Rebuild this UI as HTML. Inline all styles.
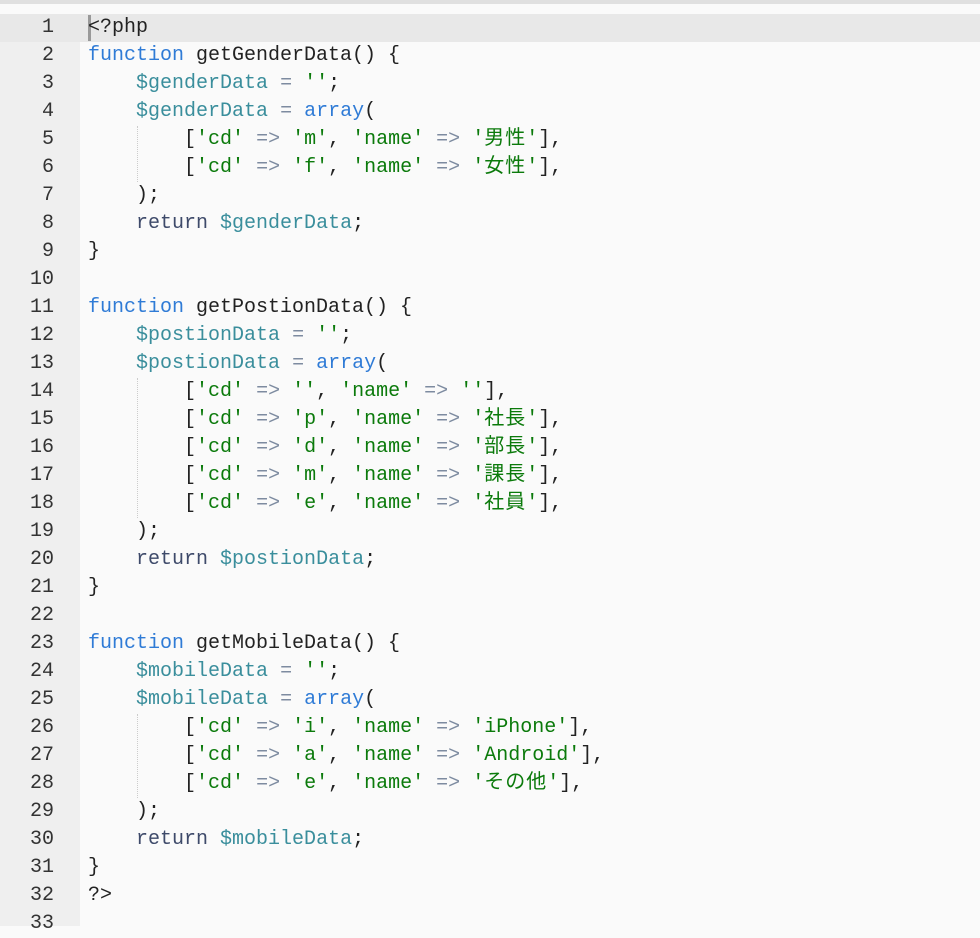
<!DOCTYPE html>
<html><head><meta charset="utf-8"><style>
html,body{margin:0;padding:0;}
body{width:980px;height:926px;overflow:hidden;background:#fafafa;position:relative;font-family:"Liberation Mono","Noto Sans CJK JP",monospace;font-size:20px;}
#top{position:absolute;left:0;top:0;width:980px;height:4px;background:#e0e0e0;}
#topw{position:absolute;left:0;top:4px;width:980px;height:10px;background:#fafafa;}
#gut{position:absolute;left:0;top:14px;width:80px;height:912px;background:#efefef;}
#hl{position:absolute;left:0;top:14px;width:980px;height:28px;background:#e8e8e8;}
#cur{position:absolute;left:88px;top:15px;width:3px;height:26px;background:#999;}
.ln{position:absolute;left:0;width:54px;text-align:right;color:#333;height:28px;line-height:28px;}
.cl{position:absolute;left:88px;height:28px;line-height:28px;white-space:pre;color:#222;overflow:hidden;}
.k{color:#2f7bd6}.v{color:#3a8e9c}.s{color:#0b7a0b}.o{color:#7d8ba0}.r{color:#3e4a6a}
.cj{font-family:"Noto Sans CJK JP",sans-serif;display:inline-block;line-height:20px;height:20px;vertical-align:baseline;letter-spacing:1px;}
.g{position:absolute;left:137px;width:0;border-left:1px dotted #ccc;}
</style></head><body>
<div id="top"></div><div id="topw"></div>
<div id="gut"></div><div id="hl"></div>
<div class="g" style="top:126px;height:56px"></div>
<div class="g" style="top:378px;height:140px"></div>
<div class="g" style="top:714px;height:84px"></div>
<div id="cur"></div>
<div id="c"></div>
<script>
const L=[
'<?php',
'<span class="k">function</span> getGenderData() {',
'    <span class="v">$genderData</span> <span class="o">=</span> <span class="s">\'\'</span>;',
'    <span class="v">$genderData</span> <span class="o">=</span> <span class="k">array</span>(',
'        [<span class="s">\'cd\'</span> <span class="o">=></span> <span class="s">\'m\'</span>, <span class="s">\'name\'</span> <span class="o">=></span> <span class="s">\'<span class="cj">男性</span>\'</span>],',
'        [<span class="s">\'cd\'</span> <span class="o">=></span> <span class="s">\'f\'</span>, <span class="s">\'name\'</span> <span class="o">=></span> <span class="s">\'<span class="cj">女性</span>\'</span>],',
'    );',
'    <span class="r">return</span> <span class="v">$genderData</span>;',
'}',
'',
'<span class="k">function</span> getPostionData() {',
'    <span class="v">$postionData</span> <span class="o">=</span> <span class="s">\'\'</span>;',
'    <span class="v">$postionData</span> <span class="o">=</span> <span class="k">array</span>(',
'        [<span class="s">\'cd\'</span> <span class="o">=></span> <span class="s">\'\'</span>, <span class="s">\'name\'</span> <span class="o">=></span> <span class="s">\'\'</span>],',
'        [<span class="s">\'cd\'</span> <span class="o">=></span> <span class="s">\'p\'</span>, <span class="s">\'name\'</span> <span class="o">=></span> <span class="s">\'<span class="cj">社長</span>\'</span>],',
'        [<span class="s">\'cd\'</span> <span class="o">=></span> <span class="s">\'d\'</span>, <span class="s">\'name\'</span> <span class="o">=></span> <span class="s">\'<span class="cj">部長</span>\'</span>],',
'        [<span class="s">\'cd\'</span> <span class="o">=></span> <span class="s">\'m\'</span>, <span class="s">\'name\'</span> <span class="o">=></span> <span class="s">\'<span class="cj">課長</span>\'</span>],',
'        [<span class="s">\'cd\'</span> <span class="o">=></span> <span class="s">\'e\'</span>, <span class="s">\'name\'</span> <span class="o">=></span> <span class="s">\'<span class="cj">社員</span>\'</span>],',
'    );',
'    <span class="r">return</span> <span class="v">$postionData</span>;',
'}',
'',
'<span class="k">function</span> getMobileData() {',
'    <span class="v">$mobileData</span> <span class="o">=</span> <span class="s">\'\'</span>;',
'    <span class="v">$mobileData</span> <span class="o">=</span> <span class="k">array</span>(',
'        [<span class="s">\'cd\'</span> <span class="o">=></span> <span class="s">\'i\'</span>, <span class="s">\'name\'</span> <span class="o">=></span> <span class="s">\'iPhone\'</span>],',
'        [<span class="s">\'cd\'</span> <span class="o">=></span> <span class="s">\'a\'</span>, <span class="s">\'name\'</span> <span class="o">=></span> <span class="s">\'Android\'</span>],',
'        [<span class="s">\'cd\'</span> <span class="o">=></span> <span class="s">\'e\'</span>, <span class="s">\'name\'</span> <span class="o">=></span> <span class="s">\'<span class="cj">その他</span>\'</span>],',
'    );',
'    <span class="r">return</span> <span class="v">$mobileData</span>;',
'}',
'?>',
''];
let h='';
for(let i=0;i<33;i++){const t=14+28*i;
h+='<div class="ln" style="top:'+t+'px">'+(i+1)+'</div>';
h+='<div class="cl" style="top:'+t+'px">'+(i==0?'&lt;?php':i==31?'?&gt;':L[i])+'</div>';}
document.getElementById('c').innerHTML=h;
</script>
</body></html>
